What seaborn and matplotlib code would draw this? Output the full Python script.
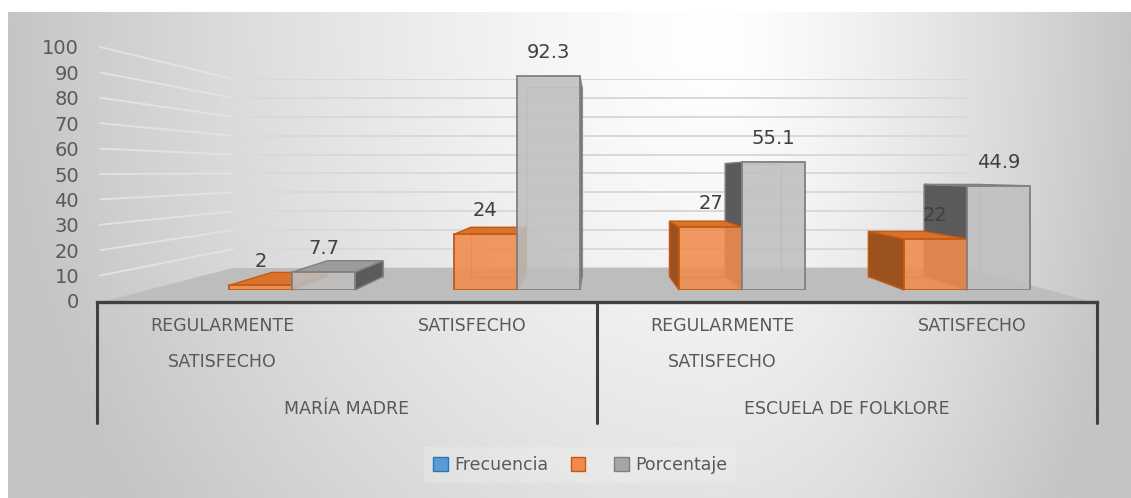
import numpy as np
import pandas as pd
import matplotlib
matplotlib.use("Agg")
import matplotlib.pyplot as plt
import seaborn as sns
from matplotlib.patches import Polygon, Patch, ConnectionPatch

# ---------------- data ----------------
group_names = ["MARÍA MADRE", "ESCUELA DE FOLKLORE"]
categories = ["REGULARMENTE\nSATISFECHO", "SATISFECHO", "REGULARMENTE\nSATISFECHO", "SATISFECHO"]
category_ids = ["MM_REG", "MM_SAT", "EF_REG", "EF_SAT"]
frecuencia = [2, 24, 27, 22]          # orange series
porcentaje = [7.7, 92.3, 55.1, 44.9]  # gray series
legend_labels = ["Frecuencia", "", "Porcentaje"]
y_ticks = list(range(0, 101, 10))

# ---------------- style ----------------
sns.set_style("white")
plt.rcParams["font.family"] = ["DejaVu Sans"]

W, H = 1131, 498
fig = plt.figure(figsize=(W / 100, H / 100), dpi=100)
fig.patch.set_facecolor("white")


def fr(x0, y_top, x1, y_bot):
    return [x0 / W, 1 - y_bot / H, (x1 - x0) / W, (y_bot - y_top) / H]


def pf(x, y):
    return (x / W, 1 - y / H)


ORANGE = "#F08B4C"
ORANGE_EDGE = "#C55A11"
ORANGE_SIDE = "#9C521F"
ORANGE_TOP = "#D9722F"
GRAY = "#BFBFBF"
GRAY_EDGE = "#808080"
GRAY_SIDE = "#5B5B5B"
GRAY_TOP = "#9C9C9C"
TXT = "#595959"

# ---------------- background gradient ----------------
ax_bg = fig.add_axes(fr(8, 12, 1131, 498), zorder=-5)
xs = np.linspace(8, 1131, 560)
ys = np.linspace(12, 498, 250)
X, Y = np.meshgrid(xs, ys)
dx = X - 720
tx = np.where(dx < 0, -dx / 712, dx / 411)
ty = np.clip((Y - 40) / 800, 0, None)
t = np.clip(np.sqrt(tx ** 2 + ty ** 2), 0, 1)
val = (255 - 58 * t ** 1.3) / 255
img = np.dstack([val, val, val])
ax_bg.imshow(img, aspect="auto", extent=[0, 1, 0, 1], interpolation="bilinear")
ax_bg.set_axis_off()

# ---------------- back wall with gridlines ----------------
ax_wall = fig.add_axes(fr(233, 79, 967, 268), zorder=-4)
ax_wall.set_facecolor("none")
ax_wall.set_xlim(0, 1)
ax_wall.set_ylim(0, 100)
ax_wall.set_yticks(y_ticks)
ax_wall.set_xticks([])
ax_wall.tick_params(left=False, labelleft=False)
ax_wall.grid(axis="y", color="#D9D9D9", lw=1.4)
for s in ax_wall.spines.values():
    s.set_visible(False)

# ---------------- tick labels (front plane) ----------------
ax_ticks = fig.add_axes(fr(100, 47, 110, 301), zorder=-3)
ax_ticks.set_facecolor("none")
ax_ticks.set_xlim(0, 1)
ax_ticks.set_ylim(0, 100)
ax_ticks.set_yticks(y_ticks)
ax_ticks.set_yticklabels([str(v) for v in y_ticks])
ax_ticks.set_xticks([])
ax_ticks.tick_params(axis="y", length=0, pad=15, labelsize=14, labelcolor=TXT)
for s in ax_ticks.spines.values():
    s.set_visible(False)

# side wall gridlines
for v in y_ticks[1:]:
    cp = ConnectionPatch(xyA=(0, v), coordsA=ax_ticks.transData,
                         xyB=(0, v), coordsB=ax_wall.transData,
                         color="#E2E2E2", lw=1.4, zorder=-3.5)
    fig.add_artist(cp)

# floor
floor = Polygon([pf(97, 303), pf(1097, 303), pf(967, 268), pf(233, 268)],
                closed=True, transform=fig.transFigure, facecolor="#BDBDBD",
                edgecolor="none", zorder=-2)
fig.add_artist(floor)

# ---------------- bars ----------------
df = pd.DataFrame({
    "pos": category_ids * 2,
    "value": frecuencia + porcentaje,
    "serie": ["Frecuencia"] * 4 + ["Porcentaje"] * 4,
})

ax = fig.add_axes(fr(97, 58, 1097, 290), zorder=1)
sns.barplot(data=df, x="pos", y="value", hue="serie", order=category_ids,
            hue_order=["Frecuencia", "Porcentaje"], palette=[ORANGE, GRAY],
            width=0.56, saturation=1, legend=False, ax=ax)
ax.set_xlim((97 - 292) / 225, (1097 - 292) / 225)
ax.set_ylim(0, 100)
ax.set_facecolor("none")
ax.set_axis_off()

VP = np.array([597.0, H - 174.0])
K = 0.116
inv = ax.transData.inverted()

styles = [(ORANGE, ORANGE_EDGE, ORANGE_SIDE, ORANGE_TOP),
          (GRAY, GRAY_EDGE, GRAY_SIDE, GRAY_TOP)]


def back(p):
    return p + K * (VP - p)


def poly(points, fc, ec, z, lw=1.0, alpha=1.0):
    dpts = inv.transform(np.array(points))
    pg = Polygon(dpts, closed=True, facecolor=fc, edgecolor=ec, lw=lw,
                 alpha=alpha, zorder=z, clip_on=False)
    ax.add_patch(pg)


for cont, (fc, ec, sc, tc) in zip(ax.containers, styles):
    for p in cont.patches:
        x0, w, h = p.get_x(), p.get_width(), p.get_height()
        (X0, Yb), (X1, Yt) = ax.transData.transform([(x0, 0), (x0 + w, h)])
        FLb, FRb = np.array([X0, Yb]), np.array([X1, Yb])
        FLt, FRt = np.array([X0, Yt]), np.array([X1, Yt])
        BLb, BRb, BLt, BRt = back(FLb), back(FRb), back(FLt), back(FRt)
        # see-through back edges
        poly([BLb, BRb, BRt, BLt], "none", ec, 1.5, lw=0.9, alpha=0.6)
        if X1 < VP[0]:
            poly([FRb, FRt, BRt, BRb], sc, ec, 2, lw=1.0)
        if X0 > VP[0]:
            poly([FLb, FLt, BLt, BLb], sc, ec, 2, lw=1.0)
        if Yt < VP[1]:
            poly([FLt, FRt, BRt, BLt], tc, ec, 2.2, lw=1.0)
        p.set_facecolor(matplotlib.colors.to_rgba(fc, 0.88))
        p.set_edgecolor(ec)
        p.set_linewidth(1.3)
        p.set_zorder(3)

for cont, vals in zip(ax.containers, [frecuencia, porcentaje]):
    ax.bar_label(cont, labels=[f"{v:g}" for v in vals], padding=10,
                 fontsize=14, color="#404040", zorder=5)

# ---------------- category table ----------------
ax_tab = fig.add_axes(fr(97, 302, 1097, 423), zorder=2)
ax_tab.set_xlim(0, 4)
ax_tab.set_ylim(0, 1)
ax_tab.set_axis_off()
ax_tab.plot([0, 4], [1, 1], color="#404040", lw=2.4, clip_on=False,
            solid_capstyle="projecting")
for xv in [0, 2, 4]:
    ax_tab.plot([xv, xv], [1, 0], color="#404040", lw=2.2, clip_on=False)
for i, cat in enumerate(categories):
    ax_tab.text(i + 0.5, 0.88, cat, ha="center", va="top", fontsize=12.5,
                color=TXT, linespacing=2.3)
for j, g in enumerate(group_names):
    ax_tab.text(2 * j + 1, 0.115, g, ha="center", va="center", fontsize=12.5,
                color=TXT)

# ---------------- legend ----------------
handles = [Patch(facecolor="#5B9BD5", edgecolor="#2E75B6"),
           Patch(facecolor=ORANGE, edgecolor=ORANGE_EDGE),
           Patch(facecolor="#A5A5A5", edgecolor="#7F7F7F")]
leg = fig.legend(handles, legend_labels, loc="center", ncol=3,
                 bbox_to_anchor=pf(580, 465), fontsize=12.5, frameon=True,
                 handlelength=0.85, handleheight=0.85, handletextpad=0.35,
                 columnspacing=1.3, fancybox=False, borderpad=0.5)
leg.get_frame().set_facecolor("white")
leg.get_frame().set_alpha(0.18)
leg.get_frame().set_edgecolor("none")
for txt in leg.get_texts():
    txt.set_color(TXT)

fig.savefig("out.png", dpi=100)
